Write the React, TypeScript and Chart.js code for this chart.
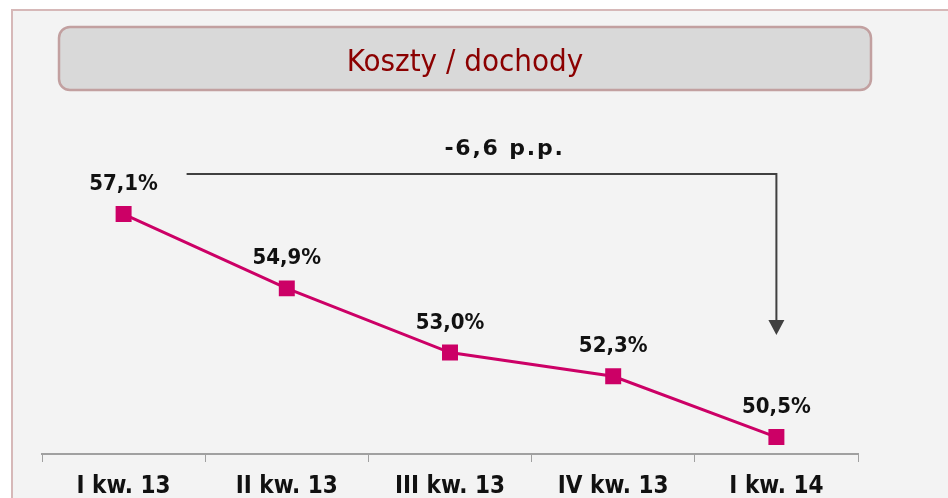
import React, { useEffect, useRef } from "react";
import { Chart, registerables } from "chart.js";

Chart.register(...registerables);

const categories: string[] = ["I kw. 13", "II kw. 13", "III kw. 13", "IV kw. 13", "I kw. 14"];
const costIncome: number[] = [57.1, 54.9, 53.0, 52.3, 50.5];
const titleText = "Koszty / dochody";
const yMin = 50;
const yMax = 60;

const fmt = (v: number) => v.toFixed(1).replace(".", ",");

const LINE_COLOR = "#CC0066";
const COND = "'DejaVu Sans Condensed', 'DejaVu Sans', sans-serif";

const backgroundPlugin = {
  id: "panelBg",
  beforeDraw(chart: any) {
    const { ctx, width, height } = chart;
    ctx.save();
    ctx.fillStyle = "#ffffff";
    ctx.fillRect(0, 0, width, height);
    ctx.fillStyle = "#f3f3f3";
    ctx.fillRect(12, 10, width - 12, height - 10);
    ctx.strokeStyle = "#d6b8b8";
    ctx.lineWidth = 2;
    ctx.beginPath();
    ctx.moveTo(12, height);
    ctx.lineTo(12, 10);
    ctx.lineTo(width, 10);
    ctx.stroke();
    // title box
    ctx.beginPath();
    (ctx as any).roundRect(59, 27, 812, 63, 11);
    ctx.fillStyle = "#d9d9d9";
    ctx.fill();
    ctx.strokeStyle = "#c2a0a0";
    ctx.lineWidth = 2.5;
    ctx.stroke();
    ctx.fillStyle = "#8b0000";
    ctx.font = `31px ${COND}`;
    ctx.textAlign = "center";
    ctx.textBaseline = "alphabetic";
    ctx.fillText(titleText, 465, 71);
    ctx.restore();
  },
};

const labelsPlugin = {
  id: "valueLabels",
  afterDatasetsDraw(chart: any) {
    const { ctx } = chart;
    const meta = chart.getDatasetMeta(0);
    ctx.save();
    ctx.fillStyle = "#111111";
    ctx.font = `bold 22px ${COND}`;
    ctx.textAlign = "center";
    ctx.textBaseline = "alphabetic";
    meta.data.forEach((pt: any, i: number) => {
      ctx.fillText(fmt(costIncome[i]) + "%", pt.x, pt.y - 24);
    });

    // change annotation arrow
    const first = meta.data[0];
    const last = meta.data[meta.data.length - 1];
    const x0 = first.x + 63;
    const yLine = first.y - 40;
    const x1 = last.x;
    const tipY = last.y - 102;
    ctx.strokeStyle = "#404040";
    ctx.fillStyle = "#404040";
    ctx.lineWidth = 2;
    ctx.beginPath();
    ctx.moveTo(x0, yLine);
    ctx.lineTo(x1, yLine);
    ctx.lineTo(x1, tipY - 14);
    ctx.stroke();
    ctx.beginPath();
    ctx.moveTo(x1 - 8, tipY - 15);
    ctx.lineTo(x1 + 8, tipY - 15);
    ctx.lineTo(x1, tipY);
    ctx.closePath();
    ctx.fill();

    const diff = costIncome[costIncome.length - 1] - costIncome[0];
    ctx.fillStyle = "#111111";
    ctx.font = "bold 22px 'DejaVu Sans', sans-serif";
    try {
      (ctx as any).letterSpacing = "1.8px";
    } catch (e) {}
    ctx.fillText(fmt(diff) + " p.p.", (x0 + x1) / 2 + 23, yLine - 19);
    ctx.restore();
  },
};

export default function App() {
  const ref = useRef<HTMLCanvasElement | null>(null);
  useEffect(() => {
    if (!ref.current) return;
    const chart = new Chart(ref.current, {
      type: "line",
      data: {
        labels: categories,
        datasets: [
          {
            data: costIncome,
            borderColor: LINE_COLOR,
            backgroundColor: LINE_COLOR,
            borderWidth: 3,
            pointStyle: "rect",
            pointRadius: 11.3,
            pointBorderWidth: 0,
            pointBackgroundColor: LINE_COLOR,
            tension: 0,
            fill: false,
          },
        ],
      },
      options: {
        responsive: false,
        animation: false,
        events: [],
        layout: { padding: { left: 42, right: 90, top: 116, bottom: 0 } },
        plugins: {
          legend: { display: false },
          tooltip: { enabled: false },
          title: { display: false },
        },
        scales: {
          y: {
            display: false,
            min: yMin,
            max: yMax,
          },
          x: {
            offset: true,
            afterFit: (scale: any) => {
              scale.height = 44;
            },
            grid: {
              display: true,
              offset: true,
              drawOnChartArea: false,
              drawTicks: true,
              tickLength: 8,
              color: "#a0a0a0",
              lineWidth: 1,
            },
            border: { display: true, color: "#a0a0a0", width: 2 },
            ticks: {
              color: "#111111",
              padding: 10,
              maxRotation: 0,
              autoSkip: false,
              font: { family: COND, size: 24, weight: "bold" },
            },
          },
        },
      },
      plugins: [backgroundPlugin, labelsPlugin],
    });
    return () => chart.destroy();
  }, []);
  return (
    <div style={{ position: "absolute", left: 0, top: 0, width: 948, height: 498 }}>
      <canvas ref={ref} width={948} height={498} style={{ display: "block", width: 948, height: 498 }} />
    </div>
  );
}
